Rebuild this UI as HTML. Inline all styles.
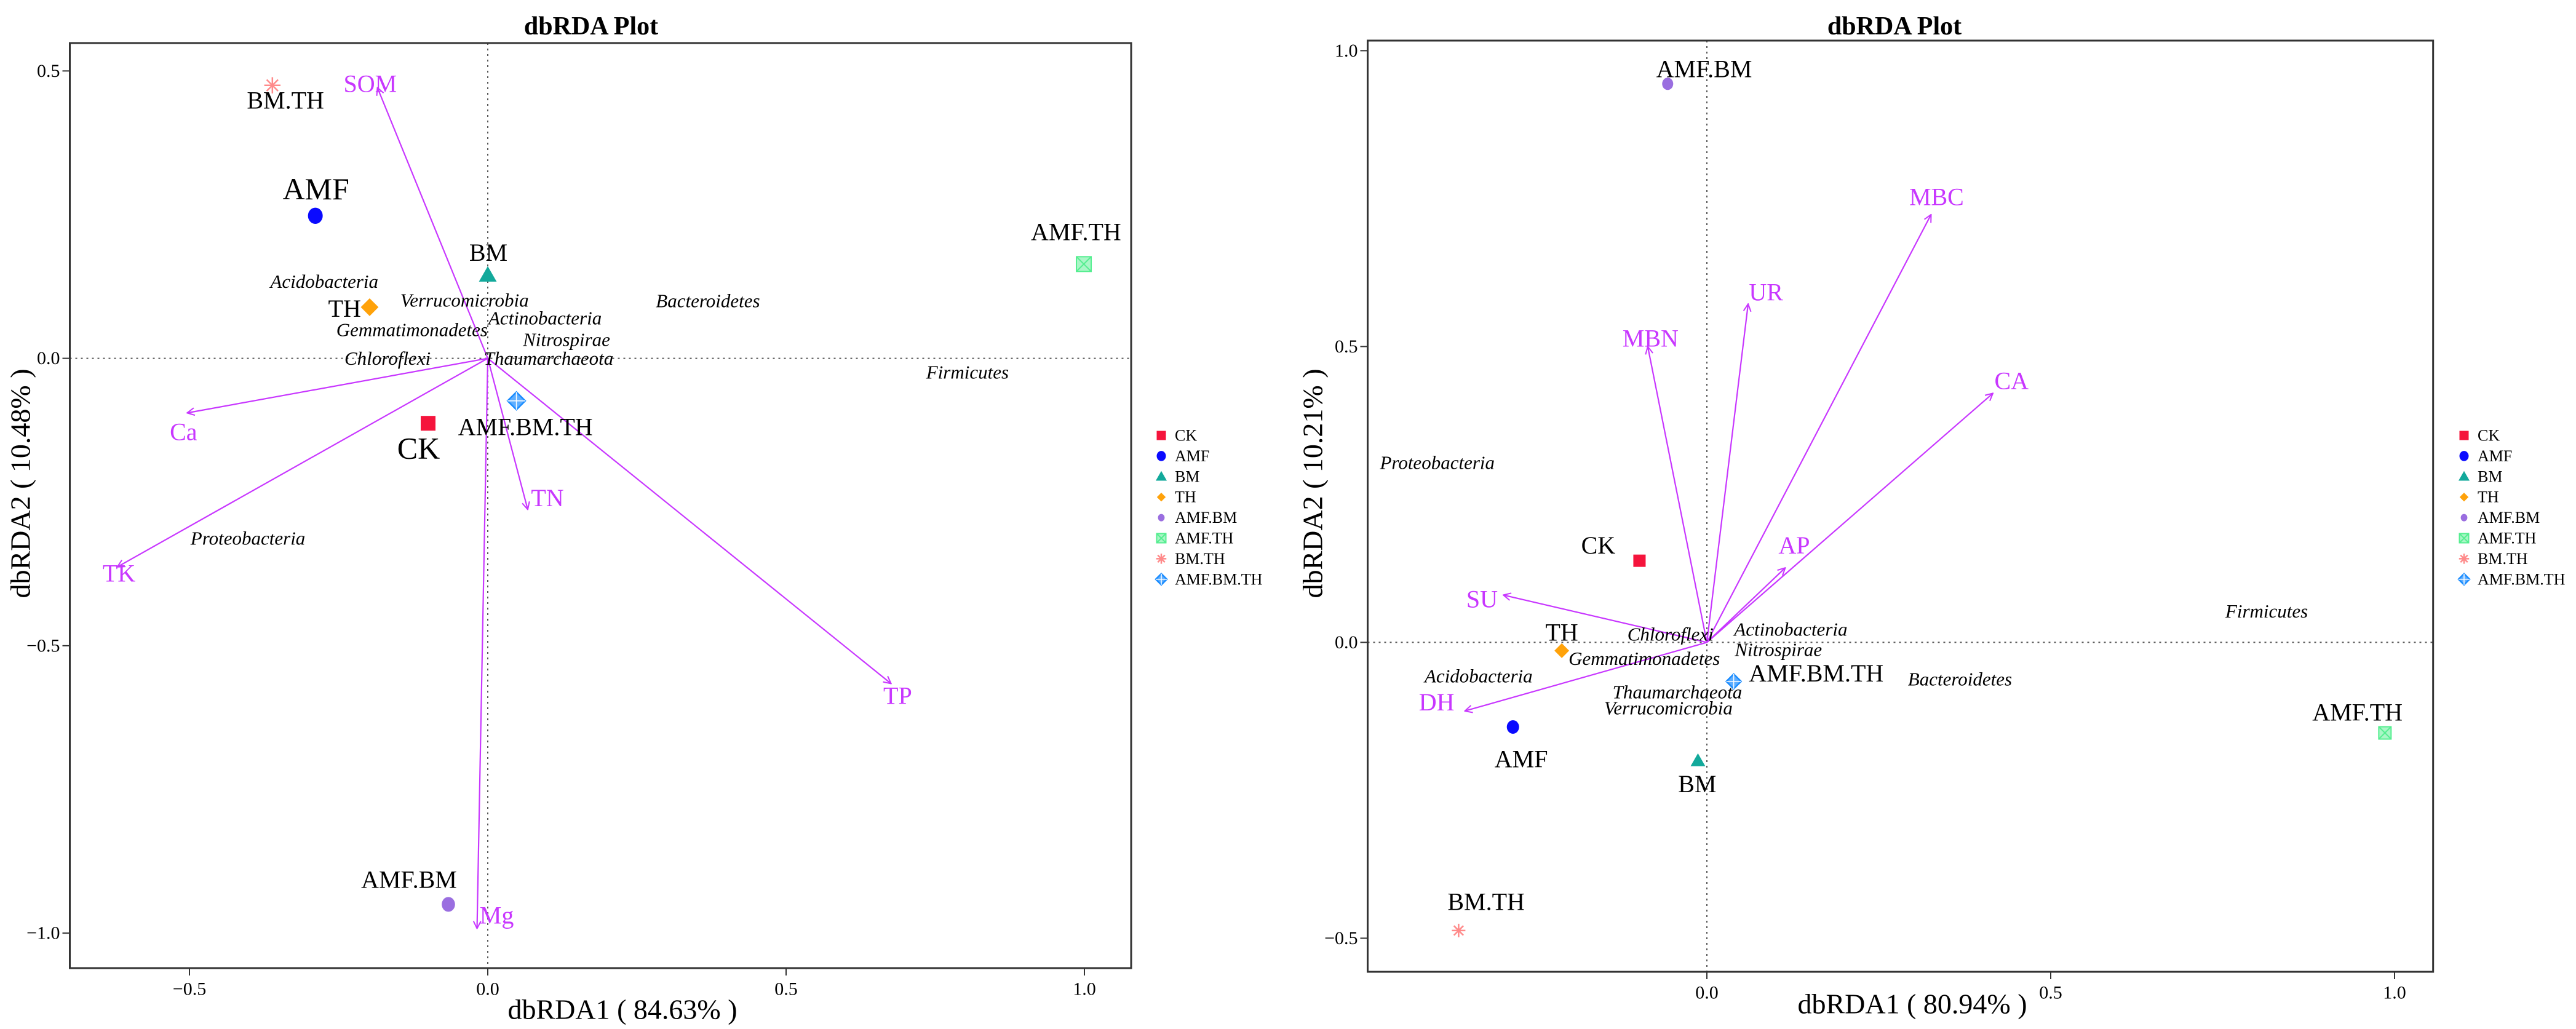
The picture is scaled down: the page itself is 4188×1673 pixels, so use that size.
<!DOCTYPE html>
<html><head><meta charset="utf-8"><style>
html,body{margin:0;padding:0;background:#fff;}
svg{display:block;}
svg text{font-family:"Liberation Serif","DejaVu Serif",serif;}
</style></head><body>
<svg id="root" width="4188" height="1673" viewBox="0 0 4188 1673" xmlns="http://www.w3.org/2000/svg" font-family="Liberation Serif, DejaVu Serif, serif">
<defs>
<marker id="ah" markerWidth="14" markerHeight="14" refX="13" refY="7" orient="auto" markerUnits="userSpaceOnUse">
<path d="M1,1 L13,7 L1,13" fill="none" stroke="#c837ff" stroke-width="2"/>
</marker>
</defs>
</svg>
<script>
// ---------- Left chart data ----------
const L_samples = ["CK","AMF","BM","TH","AMF.BM","AMF.TH","BM.TH","AMF.BM.TH"];
const L_sx = [-0.100,-0.289,0.000,-0.198,-0.066,0.999,-0.361,0.048];
const L_sy = [-0.113,0.248,0.145,0.089,-0.950,0.164,0.475,-0.074];
const L_slx = [-0.116,-0.288,0.001,-0.240,-0.132,0.986,-0.339,0.063];
const L_sly = [-0.156,0.295,0.184,0.087,-0.907,0.220,0.449,-0.119];
const L_env = ["SOM","Ca","TK","TN","TP","Mg"];
const L_ex = [-0.185,-0.504,-0.621,0.067,0.676,-0.018];
const L_ey = [0.471,-0.095,-0.363,-0.263,-0.566,-0.992];
const L_elx = [-0.197,-0.510,-0.618,0.100,0.687,0.015];
const L_ely = [0.478,-0.128,-0.374,-0.243,-0.587,-0.969];
const L_spec = ["Acidobacteria","Verrucomicrobia","Actinobacteria","Bacteroidetes","Gemmatimonadetes","Nitrospirae","Chloroflexi","Thaumarchaeota","Firmicutes","Proteobacteria"];
const L_spx = [-0.274,-0.039,0.096,0.369,-0.127,0.132,-0.168,0.102,0.804,-0.402];
const L_spy = [0.134,0.101,0.070,0.100,0.050,0.033,0.000,0.000,-0.024,-0.313];
const L_xticks = [-0.5,0.0,0.5,1.0];
const L_yticks = [0.5,0.0,-0.5,-1.0];
const L_xlabels = ["\u22120.5","0.0","0.5","1.0"];
const L_ylabels = ["0.5","0.0","\u22120.5","\u22121.0"];
// ---------- Right chart data ----------
const R_samples = ["CK","AMF","BM","TH","AMF.BM","AMF.TH","BM.TH","AMF.BM.TH"];
const R_sx = [-0.098,-0.282,-0.013,-0.211,-0.057,0.986,-0.361,0.039];
const R_sy = [0.138,-0.143,-0.200,-0.014,0.944,-0.153,-0.487,-0.066];
const R_slx = [-0.158,-0.270,-0.014,-0.211,-0.004,0.946,-0.321,0.159];
const R_sly = [0.164,-0.197,-0.239,0.017,0.969,-0.118,-0.438,-0.052];
const R_env = ["MBC","UR","MBN","CA","AP","SU","DH"];
const R_ex = [0.326,0.060,-0.086,0.416,0.114,-0.296,-0.352];
const R_ey = [0.723,0.572,0.500,0.421,0.126,0.080,-0.116];
const R_elx = [0.334,0.086,-0.082,0.443,0.127,-0.327,-0.393];
const R_ely = [0.753,0.592,0.514,0.442,0.164,0.073,-0.101];
const R_spec = ["Proteobacteria","Firmicutes","Chloroflexi","Actinobacteria","Nitrospirae","Gemmatimonadetes","Acidobacteria","Bacteroidetes","Thaumarchaeota","Verrucomicrobia"];
const R_spx = [-0.392,0.814,-0.053,0.122,0.104,-0.091,-0.332,0.368,-0.043,-0.056];
const R_spy = [0.304,0.053,0.014,0.022,-0.012,-0.027,-0.057,-0.062,-0.084,-0.111];
const R_xticks = [0.0,0.5,1.0];
const R_yticks = [1.0,0.5,0.0,-0.5];
const R_xlabels = ["0.0","0.5","1.0"];
const R_ylabels = ["1.0","0.5","0.0","\u22120.5"];

const NS = "http://www.w3.org/2000/svg";
const root = document.getElementById("root");
const FF = "Liberation Serif, DejaVu Serif, serif";
function mk(tag, attrs, parent, txt){
  const e = document.createElementNS(NS, tag);
  for (const k in attrs) e.setAttribute(k, attrs[k]);
  if (tag === "text") e.setAttribute("font-family", FF);
  if (txt !== undefined) e.textContent = txt;
  (parent||root).appendChild(e);
  return e;
}
const colors = {"CK":"#f5143c","AMF":"#0a0aff","BM":"#12a99b","TH":"#ffa20a","AMF.BM":"#9a6ee0","AMF.TH":"#55ee90","BM.TH":"#ff8a8a","AMF.BM.TH":"#1a8cff"};

function marker(g, name, cx, cy, s){
  const c = colors[name];
  let e;
  if (name==="CK"){ e = mk("rect",{x:cx-s/2,y:cy-s/2,width:s,height:s,fill:c},g); }
  else if (name==="AMF"){ e = mk("ellipse",{cx:cx,cy:cy,rx:s*0.5,ry:s*0.55,fill:c},g); }
  else if (name==="BM"){ e = mk("polygon",{points:`${cx},${cy-s*0.6} ${cx-s*0.6},${cy+s*0.45} ${cx+s*0.6},${cy+s*0.45}`,fill:c},g); }
  else if (name==="TH"){ e = mk("polygon",{points:`${cx},${cy-s*0.6} ${cx+s*0.6},${cy} ${cx},${cy+s*0.6} ${cx-s*0.6},${cy}`,fill:c},g); }
  else if (name==="AMF.BM"){ e = mk("ellipse",{cx:cx,cy:cy,rx:s*0.45,ry:s*0.5,fill:c},g); }
  else if (name==="AMF.TH"){ e = mk("g",{},g);
    mk("rect",{x:cx-s/2,y:cy-s/2,width:s,height:s,fill:c,"fill-opacity":0.5,stroke:c,"stroke-width":2},e);
    mk("path",{d:`M${cx-s/2},${cy-s/2}L${cx+s/2},${cy+s/2}M${cx+s/2},${cy-s/2}L${cx-s/2},${cy+s/2}`,stroke:c,"stroke-width":2},e); }
  else if (name==="BM.TH"){ e = mk("g",{},g);
    const r=s*0.55;
    mk("path",{d:`M${cx-r},${cy}L${cx+r},${cy}M${cx},${cy-r}L${cx},${cy+r}M${cx-r*0.7},${cy-r*0.7}L${cx+r*0.7},${cy+r*0.7}M${cx+r*0.7},${cy-r*0.7}L${cx-r*0.7},${cy+r*0.7}`,stroke:c,"stroke-width":2.5},e); }
  else { e = mk("g",{},g);
    const r=s*0.6;
    mk("polygon",{points:`${cx},${cy-r} ${cx+r},${cy} ${cx},${cy+r} ${cx-r},${cy}`,fill:c,"fill-opacity":0.7,stroke:c,"stroke-width":2.5},e);
    mk("path",{d:`M${cx-r},${cy}L${cx+r},${cy}M${cx},${cy-r}L${cx},${cy+r}`,stroke:"#fff","stroke-width":1.5},e); }
  return e;
}

function drawChart(cfg, D){
  const g = mk("g",{});
  
  
  const X = v => cfg.x0 + v*cfg.xs;
  const Y = v => cfg.y0 - v*cfg.ys;
  const t = mk("text",{x:cfg.titleX,y:43,"font-size":42,"font-weight":"bold","text-anchor":"middle","dominant-baseline":"central"},g,"dbRDA Plot");
  
  
  const zx = mk("line",{x1:X(0),x2:X(0),y1:cfg.top,y2:cfg.bottom,stroke:"#555","stroke-width":2,"stroke-dasharray":"3,6"},g);
  
  
  const zy = mk("line",{x1:cfg.left,x2:cfg.right,y1:Y(0),y2:Y(0),stroke:"#555","stroke-width":2,"stroke-dasharray":"3,6"},g);
  
  
  const fr = mk("rect",{x:cfg.left,y:cfg.top,width:cfg.right-cfg.left,height:cfg.bottom-cfg.top,fill:"none",stroke:"#333","stroke-width":3},g);
  
  
  D.xticks.forEach((v,i)=>{
    const tk = mk("line",{x1:X(v),x2:X(v),y1:cfg.bottom,y2:cfg.bottom+12,stroke:"#333","stroke-width":2},g);
    
    
    const tl = mk("text",{x:X(v),y:cfg.bottom+34,"font-size":30,"text-anchor":"middle","dominant-baseline":"central"},g,D.xlabels[i]);
    
    
  });
  D.yticks.forEach((v,i)=>{
    const tk = mk("line",{x1:cfg.left-12,x2:cfg.left,y1:Y(v),y2:Y(v),stroke:"#333","stroke-width":2},g);
    
    
    const tl = mk("text",{x:cfg.left-16,y:Y(v),"font-size":30,"text-anchor":"end","dominant-baseline":"central"},g,D.ylabels[i]);
    
    
  });
  const xt = mk("text",{x:cfg.xtX,y:cfg.xtY,"font-size":46,"text-anchor":"middle","dominant-baseline":"central"},g,cfg.xTitle);
  
  
  const yt = mk("text",{x:cfg.ytX,y:786,"font-size":46,"text-anchor":"middle","dominant-baseline":"central",transform:`rotate(-90 ${cfg.ytX} 786)`},g,cfg.yTitle);
  
  
  D.env.forEach((n,i)=>{
    const a = mk("line",{x1:X(0),y1:Y(0),x2:X(D.ex[i]),y2:Y(D.ey[i]),stroke:"#c837ff","stroke-width":2.2,"marker-end":"url(#ah)"},g);
    
    
    const l = mk("text",{x:X(D.elx[i]),y:Y(D.ely[i]),"font-size":40,fill:"#c837ff","text-anchor":"middle","dominant-baseline":"central"},g,n);
    
    
  });
  D.spec.forEach((n,i)=>{
    const l = mk("text",{x:X(D.spx[i]),y:Y(D.spy[i]),"font-size":31,"font-style":"italic","text-anchor":"middle","dominant-baseline":"central"},g,n);
    
    
  });
  D.samples.forEach((n,i)=>{
    const big = cfg.bigLabels.includes(n);
    const m = marker(g, n, X(D.sx[i]), Y(D.sy[i]), cfg.ms);
    
    
    const l = mk("text",{x:X(D.slx[i]),y:Y(D.sly[i]),"font-size":big?50:40,"text-anchor":"middle","dominant-baseline":"central"},g,n);
    
    
  });
  const lg = mk("g",{},g);
  
  
  D.samples.forEach((n,i)=>{
    const y = 708 + i*33.4;
    const e = mk("g",{},lg);
    
    
    marker(e, n, cfg.legX, y, n==="TH"||n==="AMF.BM"?12:15);
    mk("text",{x:cfg.legX+22,y:y,"font-size":26,"dominant-baseline":"central"},e,n);
  });
}

drawChart({id:"left-chart",x0:793,xs:970,y0:582.6,ys:934.5,left:113.5,right:1839,top:70,bottom:1574,
  titleX:961,xtX:1012,xtY:1641,ytX:33,xTitle:"dbRDA1 ( 84.63% )",yTitle:"dbRDA2 ( 10.48% )",legX:1888,ms:24,bigLabels:["AMF","CK"]},
  {samples:L_samples,sx:L_sx,sy:L_sy,slx:L_slx,sly:L_sly,env:L_env,ex:L_ex,ey:L_ey,elx:L_elx,ely:L_ely,spec:L_spec,spx:L_spx,spy:L_spy,
   xticks:L_xticks,yticks:L_yticks,xlabels:L_xlabels,ylabels:L_ylabels});
drawChart({id:"right-chart",x0:2775,xs:1118,y0:1044.4,ys:962,left:2223.5,right:3955.7,top:66,bottom:1580,
  titleX:3080,xtX:3109,xtY:1632,ytX:2134,xTitle:"dbRDA1 ( 80.94% )",yTitle:"dbRDA2 ( 10.21% )",legX:4006,ms:20,bigLabels:[]},
  {samples:R_samples,sx:R_sx,sy:R_sy,slx:R_slx,sly:R_sly,env:R_env,ex:R_ex,ey:R_ey,elx:R_elx,ely:R_ely,spec:R_spec,spx:R_spx,spy:R_spy,
   xticks:R_xticks,yticks:R_yticks,xlabels:R_xlabels,ylabels:R_ylabels});
</script>
</body></html>
